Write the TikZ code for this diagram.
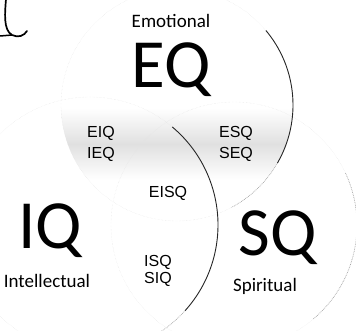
\documentclass[tikz,border=0pt]{standalone}
\usepackage{fontspec}
\setmainfont{Carlito}
\newfontfamily\labfont{Liberation Sans}
\begin{document}
\begin{tikzpicture}[x=1pt,y=1pt]
\useasboundingbox (0,0) rectangle (356,330);
\tikzset{
  big/.style={font=\fontsize{69}{69}\selectfont, inner sep=0pt, anchor=base},
  capt/.style={font=\fontsize{19}{19}\selectfont, inner sep=0pt, anchor=base},
  mix/.style={font=\labfont\fontsize{16}{16}\selectfont, inner sep=0pt, anchor=base},
  ring/.style={line width=0.9pt, black!85},
  faintring/.style={line width=0.4pt, gray!22, densely dotted},
  dotring/.style={line width=0.7pt, gray!70, densely dotted},
}
\coordinate (cE) at (177,225);
\coordinate (cI) at (90,105);
\coordinate (cS) at (234,105);
% speckled band
\begin{scope}
  \clip (cE) circle[radius=116];
  \shade[top color=white, bottom color=white, middle color=gray!24] (40,150) rectangle (320,222);
\end{scope}
% faint full circles
\draw[faintring] (cE) circle[radius=116];
\draw[faintring] (cI) circle[radius=128];
\draw[faintring] (cS) circle[radius=123];
% visible arcs
\draw[ring] ([shift={(40:116)}]cE) arc[start angle=40, end angle=-30, radius=116];
\draw[dotring] ([shift={(-30:116)}]cE) arc[start angle=-30, end angle=-62, radius=116];
\draw[ring] ([shift={(50:128)}]cI) arc[start angle=50, end angle=-42, radius=128];
\draw[dotring] ([shift={(-42:128)}]cI) arc[start angle=-42, end angle=-60, radius=128];
\draw[dotring] ([shift={(25:123)}]cS) arc[start angle=25, end angle=-50, radius=123];
% hand-drawn mark
\coordinate (m1) at (6,331);
\coordinate (m2) at (12,295);
\coordinate (m3) at (27,299);
\coordinate (m4) at (0,294);
\draw[line width=1.7pt, line cap=round] (m1) .. controls (5,318) and (3,300) .. (m2) .. controls (18,292) and (24,294) .. (m3);
\draw[line width=1.5pt] (m4) -- (m2);
% texts
\node[capt] (emo) at (171,302) {Emotional};
\node[big] (eq) at (171.5,243) {EQ};
\node[big] (iq) at (50,82) {IQ};
\node[big] (sq) at (278,75) {SQ};
\node[capt] (int) at (47,43) {Intellectual};
\node[capt] (spi) at (265,39) {Spiritual};
\node[mix] (eiq) at (101,193) {EIQ};
\node[mix] (ieq) at (101,172) {IEQ};
\node[mix] (esq) at (236,193) {ESQ};
\node[mix] (seq) at (236,172) {SEQ};
\node[mix] (eisq) at (168,133) {EISQ};
\node[mix] (isq) at (158,64) {ISQ};
\node[mix] (siq) at (158,47) {SIQ};
\end{tikzpicture}
\end{document}
